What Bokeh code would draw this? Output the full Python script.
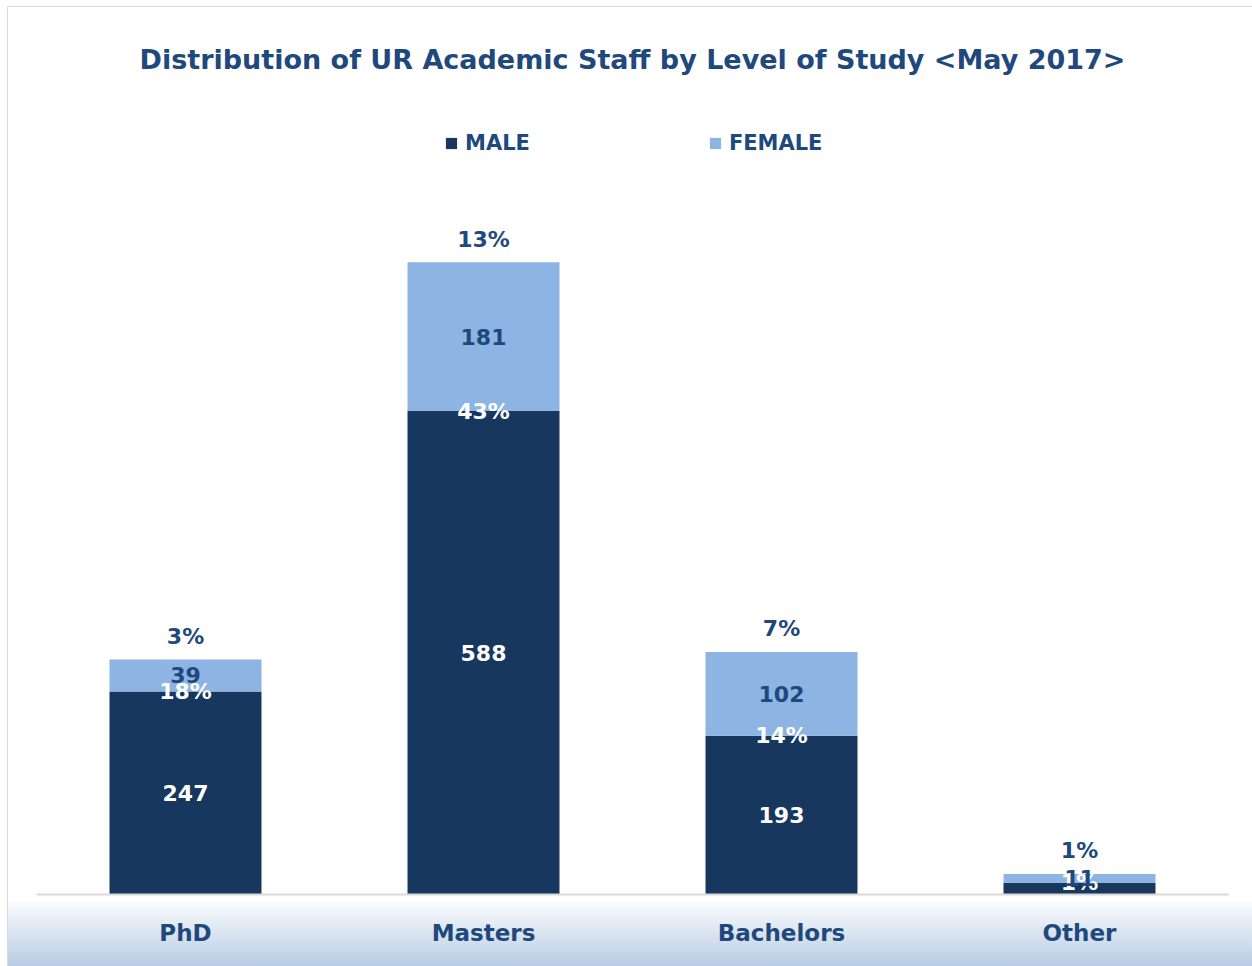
from bokeh.plotting import figure
from bokeh.models import ColumnDataSource, Legend, LegendItem, Range1d
from bokeh.core.properties import value
from bokeh.embed import file_html
from bokeh.resources import INLINE

categories = ["PhD", "Masters", "Bachelors", "Other"]
male = [247, 588, 193, 14]
female = [39, 181, 102, 11]
male_pct = ["18%", "43%", "14%", "1%"]
female_pct = ["3%", "13%", "7%", "1%"]
male_count_labels = ["247", "588", "193", ""]
female_count_labels = ["39", "181", "102", "11"]

FONT = "DejaVu Sans"
DARK = "#1F497D"
MALE_C = "#17375E"
FEMALE_C = "#8DB4E2"

src = ColumnDataSource(dict(
    cat=categories, male=male, female=female,
    male_mid=[m / 2 for m in male],
    fem_mid=[m + f / 2 for m, f in zip(male, female)],
    total=[m + f for m, f in zip(male, female)],
    male_pct=male_pct, female_pct=female_pct,
    mlab=male_count_labels, flab=female_count_labels,
))

p = figure(x_range=categories, y_range=Range1d(0, 978), width=1252, height=966,
           output_backend="svg", toolbar_location=None,
           min_border_left=36, min_border_right=24, min_border_bottom=72, min_border_top=90,
           title="Distribution of UR Academic Staff by Level of Study <May 2017>")
p.title.align = "center"
p.title.text_font = FONT
p.title.text_font_size = "27px"
p.title.text_font_style = "bold"
p.title.text_color = DARK
p.title.standoff = 31
p.outline_line_color = None
p.border_fill_color = None
p.background_fill_color = None
p.styles = {
    "background": (
        "linear-gradient(#d9d9d9,#d9d9d9) 7px 6px / 1px 960px no-repeat, "
        "linear-gradient(#d9d9d9,#d9d9d9) 7px 6px / 1245px 1px no-repeat, "
        "linear-gradient(to bottom, #fcfdfe, #b8cce4) 8px 900px / 1244px 66px no-repeat, "
        "#ffffff"
    )
}

rs = p.vbar_stack(["male", "female"], x="cat", width=0.51, color=[MALE_C, FEMALE_C],
                  line_color=None, source=src)

txt = dict(text_font=value(FONT), text_font_style="bold", text_font_size="22px",
           text_align="center", text_baseline="middle")
p.text(x="cat", y="male_mid", text="mlab", text_color="white", source=src, **txt)
p.text(x="cat", y="male", text="male_pct", text_color="white", source=src, **txt)
p.text(x="cat", y="fem_mid", text="flab", text_color=DARK, source=src, **txt)
p.text(x="cat", y="total", text="female_pct", text_color=DARK, y_offset=-23, source=src, **txt)

legend = Legend(items=[LegendItem(label="MALE", renderers=[rs[0]]),
                       LegendItem(label="FEMALE", renderers=[rs[1]])],
                orientation="horizontal", location=(408, 739),
                label_text_font=FONT, label_text_font_style="bold", label_text_font_size="21px",
                label_text_color=DARK, glyph_width=14, glyph_height=14, label_standoff=7,
                spacing=178, padding=0, margin=0, border_line_color=None,
                background_fill_alpha=0)
p.add_layout(legend)

p.yaxis.visible = False
p.xgrid.grid_line_color = None
p.ygrid.grid_line_color = None
p.xaxis.axis_line_color = "#d9d9d9"
p.xaxis.axis_line_width = 2
p.xaxis.major_tick_line_color = None
p.xaxis.minor_tick_line_color = None
p.xaxis.major_label_text_font = FONT
p.xaxis.major_label_text_font_style = "bold"
p.xaxis.major_label_text_font_size = "23px"
p.xaxis.major_label_text_color = DARK
p.xaxis.major_label_standoff = 19
p.x_range.range_padding = 0

open("out.html", "w").write(file_html(p, INLINE))
